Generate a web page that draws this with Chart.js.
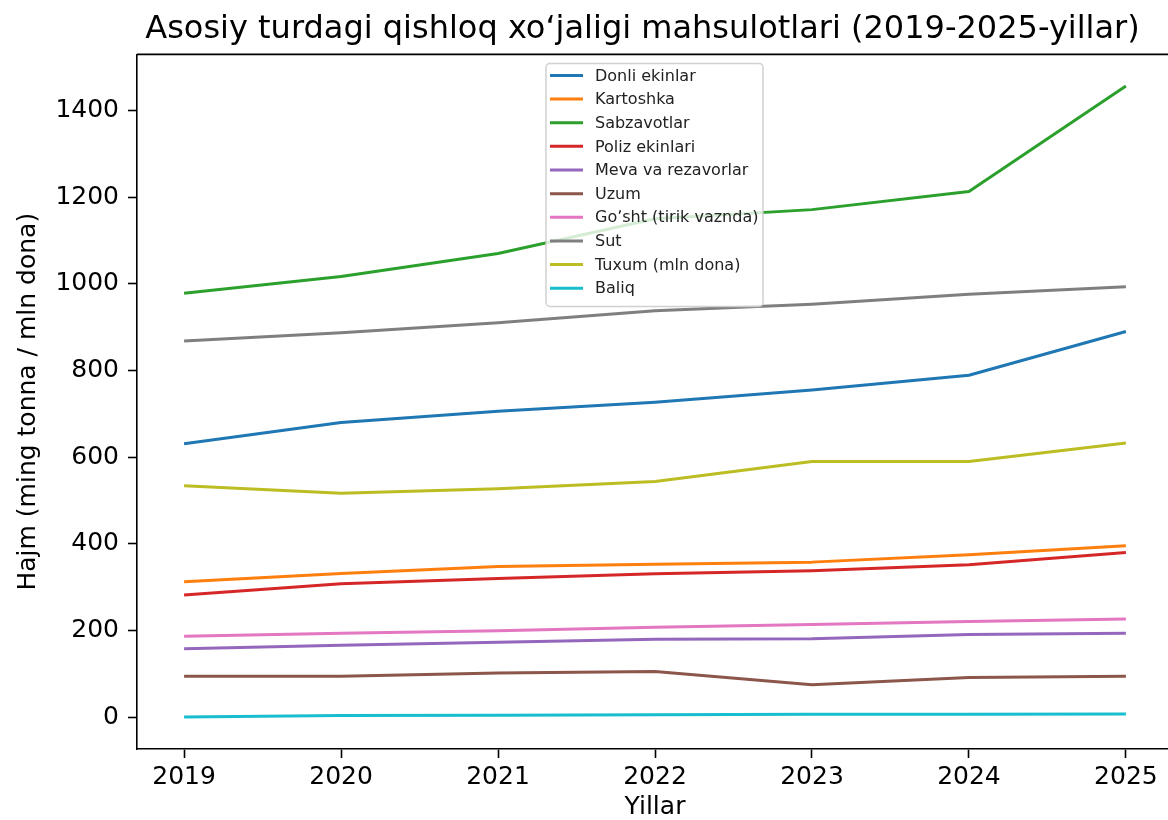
<!DOCTYPE html>
<html>
<head>
<meta charset="utf-8">
<script src="https://cdn.jsdelivr.net/npm/chart.js@4.4.1/dist/chart.umd.min.js"></script>
<style>
  html, body { margin: 0; padding: 0; background: #fff; overflow: hidden; }
  #wrap { width: 1285px; height: 820px; }
</style>
</head>
<body>
<div id="wrap"><canvas id="chart" width="1285" height="820"></canvas></div>
<script>
  'use strict';

  // Data.
  const years = [ 2019, 2020, 2021, 2022, 2023, 2024, 2025 ];
  const yTicks = [ 0, 200, 400, 600, 800, 1000, 1200, 1400 ];

  const seriesNames = [
    'Donli ekinlar',
    'Kartoshka',
    'Sabzavotlar',
    'Poliz ekinlari',
    'Meva va rezavorlar',
    'Uzum',
    'Go\u02BCsht (tirik vaznda)',
    'Sut',
    'Tuxum (mln dona)',
    'Baliq'
  ];

  const donli = [ 631, 680, 706, 727, 755, 789, 890 ];
  const kartoshka = [ 313, 332, 348, 353, 358, 375, 396 ];
  const sabzavotlar = [ 978, 1017, 1070, 1150, 1171, 1213, 1456 ];
  const poliz = [ 282, 308, 320, 331, 338, 352, 380 ];
  const meva = [ 158, 166, 173, 180, 181, 191, 194 ];
  const uzum = [ 95, 95, 102, 106, 75, 92, 95 ];
  const gosht = [ 187, 194, 200, 208, 214, 221, 227 ];
  const sut = [ 868, 887, 910, 938, 953, 976, 993 ];
  const tuxum = [ 534, 517, 527, 544, 590, 590, 633 ];
  const baliq = [ 1, 4, 5, 6, 7, 7, 8 ];

  const seriesValues = [ donli, kartoshka, sabzavotlar, poliz, meva, uzum, gosht, sut, tuxum, baliq ];

  // matplotlib tab10 palette.
  const colors = [ '#1f77b4', '#ff7f0e', '#2ca02c', '#d62728', '#9467bd',
    '#8c564b', '#e377c2', '#7f7f7f', '#bcbd22', '#17becf' ];

  const FONT = 'DejaVu Sans';

  // Top and right spines (Chart.js only draws left/bottom borders here).
  const frameBox = {
    id: 'frameBox',
    afterDatasetsDraw( chart ) {
      const { ctx, chartArea: a } = chart;
      ctx.save();
      ctx.strokeStyle = '#000';
      ctx.lineWidth = 1.6;
      ctx.beginPath();
      ctx.moveTo( a.left, a.top );
      ctx.lineTo( a.right, a.top );
      ctx.lineTo( a.right, a.bottom );
      ctx.stroke();
      ctx.restore();
    }
  };

  // Legend box drawn inside the plot area, like matplotlib's.
  const innerLegend = {
    id: 'innerLegend',
    afterDraw( chart ) {
      const { ctx, chartArea: a } = chart;
      const sets = chart.data.datasets;
      const boxX = a.left + 409;
      const boxY = a.top + 9;
      const boxW = 217;
      const boxH = 243;
      const rowH = 23.65;

      ctx.save();
      ctx.beginPath();
      ctx.roundRect( boxX, boxY, boxW, boxH, 4 );
      ctx.fillStyle = 'rgba(255,255,255,0.8)';
      ctx.fill();
      ctx.strokeStyle = 'rgba(204,204,204,0.9)';
      ctx.lineWidth = 1.5;
      ctx.stroke();

      ctx.font = '16px "' + FONT + '"';
      ctx.textBaseline = 'middle';
      ctx.textAlign = 'left';
      sets.forEach( ( ds, i ) => {
        const y = boxY + 12 + i * rowH;
        ctx.strokeStyle = ds.borderColor;
        ctx.lineWidth = 3;
        ctx.beginPath();
        ctx.moveTo( boxX + 4, y );
        ctx.lineTo( boxX + 37, y );
        ctx.stroke();
        ctx.fillStyle = '#222';
        ctx.fillText( ds.label, boxX + 49, y + 1 );
      } );
      ctx.restore();
    }
  };

  const datasets = seriesNames.map( ( name, i ) => ( {
    label: name,
    data: seriesValues[ i ],
    borderColor: colors[ i ],
    backgroundColor: colors[ i ],
    borderWidth: 3,
    pointRadius: 0,
    tension: 0,
    fill: false,
    borderJoinStyle: 'round'
  } ) );

  const tickGrid = {
    display: true,
    drawOnChartArea: false,
    drawTicks: true,
    tickLength: 9,
    tickWidth: 1.6,
    tickColor: '#000'
  };

  new Chart( document.getElementById( 'chart' ).getContext( '2d' ), {
    type: 'line',
    data: {
      labels: years,
      datasets: datasets
    },
    options: {
      responsive: false,
      devicePixelRatio: 1,
      animation: false,
      layout: { padding: 0 },
      plugins: {
        legend: { display: false },
        tooltip: { enabled: false },
        title: {
          display: true,
          text: 'Asosiy turdagi qishloq xo\u2018jaligi mahsulotlari (2019-2025-yillar)',
          color: '#000',
          font: { family: FONT, size: 32, weight: 'normal' },
          padding: { top: 10, bottom: 6 }
        }
      },
      scales: {
        x: {
          type: 'linear',
          min: 2018.7,
          max: 2025.3,
          afterBuildTicks: ( axis ) => {
            axis.ticks = years.map( ( v ) => ( { value: v } ) );
          },
          afterFit: ( axis ) => {
            axis.height = 71;
          },
          grid: tickGrid,
          border: { display: true, color: '#000', width: 1.6 },
          ticks: {
            color: '#000',
            padding: 4,
            maxRotation: 0,
            font: { family: FONT, size: 25 },
            callback: ( v ) => String( v )
          },
          title: {
            display: true,
            text: 'Yillar',
            color: '#000',
            font: { family: FONT, size: 25, lineHeight: 1 },
            padding: { top: 0, bottom: 0 }
          }
        },
        y: {
          min: -73,
          max: 1529,
          afterBuildTicks: ( axis ) => {
            axis.ticks = yTicks.map( ( v ) => ( { value: v } ) );
          },
          afterFit: ( axis ) => {
            axis.width = 137;
          },
          grid: tickGrid,
          border: { display: true, color: '#000', width: 1.6 },
          ticks: {
            color: '#000',
            padding: 9,
            font: { family: FONT, size: 25 },
            callback: ( v ) => String( v )
          },
          title: {
            display: true,
            text: 'Hajm (ming tonna / mln dona)',
            color: '#000',
            font: { family: FONT, size: 25 },
            padding: { top: 13, bottom: 0 }
          }
        },
        // Empty right-hand box: pushes the plot's right edge past the window, as in the reference.
        yPad: {
          position: 'right',
          min: -73,
          max: 1529,
          afterFit: ( axis ) => {
            axis.width = 112;
          },
          grid: { display: false },
          border: { display: false },
          ticks: { display: false }
        }
      }
    },
    plugins: [ frameBox, innerLegend ]
  } );
</script>
</body>
</html>
